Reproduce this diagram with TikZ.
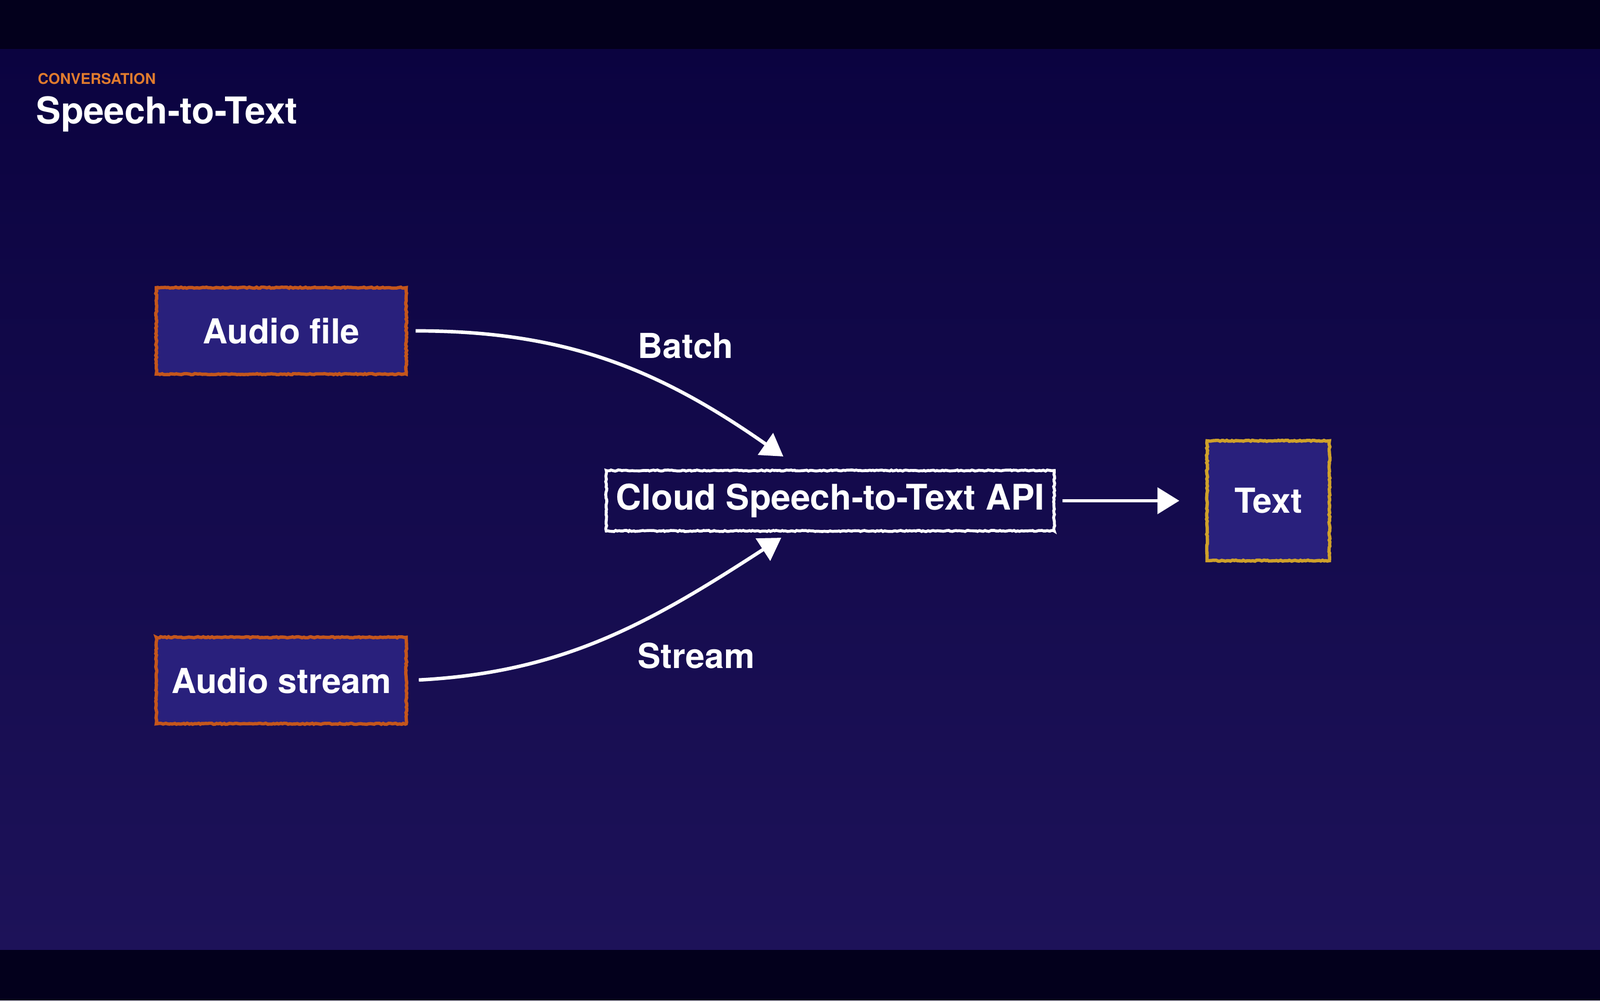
\documentclass[tikz,border=0pt]{standalone}
\usepackage{fontspec}
\setmainfont{TeX Gyre Heros}
\usepackage{tikz}
\usetikzlibrary{arrows.meta}
\usetikzlibrary{decorations.pathmorphing}
\definecolor{bgtop}{HTML}{0B0340}
\definecolor{bgbot}{HTML}{1D1259}
\definecolor{band}{HTML}{03001C}
\definecolor{boxfill}{HTML}{29207C}
\definecolor{og}{HTML}{C4561C}
\definecolor{gd}{HTML}{CFA12B}
\definecolor{kicker}{HTML}{E07B2E}
\newcommand{\boxfont}{\fontsize{18.8}{22}\selectfont\bfseries}
\tikzstyle{chalk} = [decorate, decoration={random steps, segment length=1pt, amplitude=0.3pt}]
\tikzstyle{src} = [chalk, draw=og, line width=1.8pt, fill=boxfill, minimum width=4.8cm, minimum height=1.66cm, text=white, font=\boxfont]
\tikzstyle{api} = [chalk, draw=white, line width=1.6pt, inner sep=1pt, minimum width=8.6cm, minimum height=1.16cm, text=white, font=\fontsize{19.3}{22}\selectfont\bfseries]
\tikzstyle{result} = [chalk, draw=gd, line width=1.8pt, fill=boxfill, minimum width=2.35cm, minimum height=2.3cm, text=white, font=\boxfont]
\tikzstyle{flow} = [white, line width=1.9pt, -{Triangle[length=0.42cm,width=0.5cm]}]
\tikzstyle{lbl} = [anchor=west, inner sep=0pt, text=white, font=\boxfont]

\begin{document}
\begin{tikzpicture}
			\useasboundingbox (0,0) rectangle (30.72,19.2);
			\shade[top color=bgtop, bottom color=bgbot] (0,0.97) rectangle (30.72,18.26);
			\fill[band] (0,18.26) rectangle (30.72,19.2);
			\fill[band] (0,0) rectangle (30.72,0.97);
			\node[anchor=base west, inner sep=0pt, text=kicker, font=\fontsize{8.1}{9}\selectfont\bfseries] (kick) at (0.72,17.58) {CONVERSATION};
			\node[anchor=base west, inner sep=0pt, text=white, font=\fontsize{20.2}{24}\selectfont\bfseries] (title) at (0.69,16.82) {Speech-to-Text};
			\node[src] (afile) at (5.40,12.85) {Audio file};
			\node[src] (astream) at (5.40,6.14) {Audio stream};
			\node[api] (cloud) at (15.94,9.59) {Cloud Speech-to-Text API};
			\node[result] (txt) at (24.35,9.59) {Text};
			\node[lbl] (batch) at (12.24,12.56) {Batch};
			\node[lbl] (stream) at (12.24,6.62) {Stream};
			\coordinate (batchin) at (15.04,10.44);
			\coordinate (streamin) at (15.00,8.88);
			\draw[flow, shorten <=0.15cm] (afile.east) to[out=0,in=145] (batchin);
			\draw[flow, shorten <=0.21cm] (astream.east) to[out=3,in=-147] (streamin);
			\draw[flow, shorten <=0.13cm, shorten >=0.5cm] (cloud.east) -- (txt.west);
		\end{tikzpicture}
\end{document}
